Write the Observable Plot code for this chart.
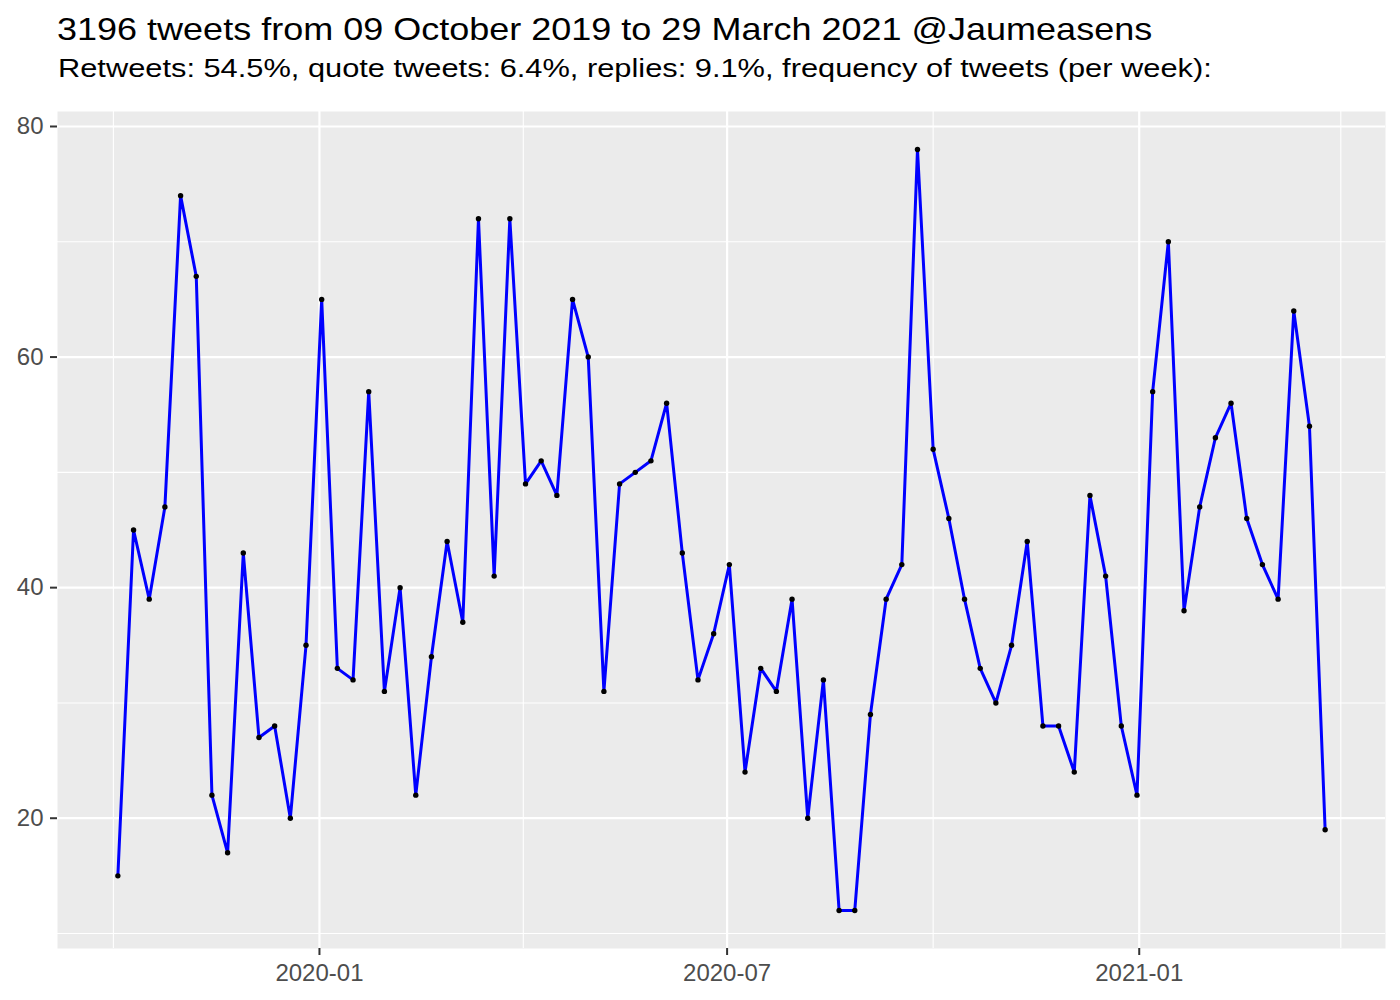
<!DOCTYPE html>
<html>
<head>
<meta charset="utf-8">
<script src="https://cdn.jsdelivr.net/npm/d3@7"></script>
<script src="https://cdn.jsdelivr.net/npm/@observablehq/plot@0.6"></script>
<style>
  html, body { margin: 0; padding: 0; background: #fff; }
  body { width: 1400px; height: 1000px; font-family: "Liberation Sans", Arial, Helvetica, sans-serif; }
  #head { position: relative; height: 100px; width: 1400px; }
  #title { position: absolute; left: 57px; top: 14px; font-size: 36px; color: #000; white-space: nowrap; line-height: 1; transform: scaleY(0.85); transform-origin: 0 0; }
  #subtitle { position: absolute; left: 58px; top: 56px; font-size: 30.8px; color: #000; white-space: nowrap; line-height: 1; transform: scaleY(0.85); transform-origin: 0 0; }
  #chart svg { display: block; }
</style>
</head>
<body>
<div id="head">
  <div id="title">3196 tweets from 09 October 2019 to 29 March 2021 @Jaumeasens</div>
  <div id="subtitle">Retweets: 54.5%, quote tweets: 6.4%, replies: 9.1%, frequency of tweets (per week):</div>
</div>
<div id="chart"></div>
<script>
// ---- data ----
const weeks = [
  "2019-10-03","2019-10-10","2019-10-17","2019-10-24","2019-10-31","2019-11-07","2019-11-14","2019-11-21","2019-11-28",
  "2019-12-05","2019-12-12","2019-12-19","2019-12-26",
  "2020-01-02","2020-01-09","2020-01-16","2020-01-23","2020-01-30","2020-02-06","2020-02-13","2020-02-20","2020-02-27",
  "2020-03-05","2020-03-12","2020-03-19","2020-03-26","2020-04-02","2020-04-09","2020-04-16","2020-04-23","2020-04-30",
  "2020-05-07","2020-05-14","2020-05-21","2020-05-28","2020-06-04","2020-06-11","2020-06-18","2020-06-25",
  "2020-07-02","2020-07-09","2020-07-16","2020-07-23","2020-07-30","2020-08-06","2020-08-13","2020-08-20","2020-08-27",
  "2020-09-03","2020-09-10","2020-09-17","2020-09-24","2020-10-01","2020-10-08","2020-10-15","2020-10-22","2020-10-29",
  "2020-11-05","2020-11-12","2020-11-19","2020-11-26","2020-12-03","2020-12-10","2020-12-17","2020-12-24","2020-12-31",
  "2021-01-07","2021-01-14","2021-01-21","2021-01-28","2021-02-04","2021-02-11","2021-02-18","2021-02-25",
  "2021-03-04","2021-03-11","2021-03-18","2021-03-25"
];
const tweetsPerWeek = [
  15,45,39,47,74,67,22,17,43,27,28,20,35,
  65,33,32,57,31,40,22,34,44,37,72,41,72,49,51,48,65,60,
  31,49,50,51,56,43,32,36,
  42,24,33,31,39,20,32,12,12,29,39,42,78,52,46,39,33,30,
  35,44,28,28,24,48,41,28,22,
  57,70,38,47,53,56,46,42,39,64,54,19
];
const xMajorTicks = ["2020-01-01","2020-07-01","2021-01-01"];
const xMinorTicks = ["2019-10-01","2020-04-01","2020-10-01","2021-04-01"];
const xTickLabels = ["2020-01","2020-07","2021-01"];
const yMajorTicks = [20,40,60,80];
const yMinorTicks = [10,30,50,70];

// ---- build ----
const parse = d3.utcParse("%Y-%m-%d");
const data = weeks.map((w, i) => ({date: parse(w), n: tweetsPerWeek[i]}));
const majX = xMajorTicks.map(parse);
const minX = xMinorTicks.map(parse);

// ggplot-like 5% expansion
const [d0, d1] = d3.extent(data, d => d.date);
const dx = (d1 - d0) * 0.05;
const [y0, y1] = d3.extent(data, d => d.n);
const dy = (y1 - y0) * 0.05;

const labelMap = new Map(majX.map((d, i) => [+d, xTickLabels[i]]));

const chart = Plot.plot({
  width: 1400,
  height: 900,
  marginLeft: 57,
  marginRight: 15,
  marginTop: 11,
  marginBottom: 52,
  style: {fontFamily: "'Liberation Sans', Arial, Helvetica, sans-serif", background: "#fff", overflow: "visible"},
  x: {type: "utc", domain: [new Date(+d0 - dx), new Date(+d1 + dx)]},
  y: {domain: [y0 - dy, y1 + dy]},
  marks: [
    Plot.frame({fill: "#EBEBEB", stroke: null}),
    Plot.ruleY(yMinorTicks, {stroke: "#fff", strokeWidth: 1.1}),
    Plot.ruleX(minX, {stroke: "#fff", strokeWidth: 1.1}),
    Plot.ruleY(yMajorTicks, {stroke: "#fff", strokeWidth: 2.2}),
    Plot.ruleX(majX, {stroke: "#fff", strokeWidth: 2.2}),
    Plot.line(data, {x: "date", y: "n", stroke: "#0000FF", strokeWidth: 3, strokeLinejoin: "round"}),
    Plot.dot(data, {x: "date", y: "n", r: 2.7, fill: "#000", stroke: null}),
    Plot.axisY({ticks: yMajorTicks, tickSize: 7, tickPadding: 7, fontSize: 24, color: "#4D4D4D", stroke: "#333", strokeWidth: 2, label: null}),
    Plot.axisX({ticks: majX, tickSize: 7, tickPadding: 8, fontSize: 24, color: "#4D4D4D", stroke: "#333", strokeWidth: 2, label: null, tickFormat: d => labelMap.get(+d)})
  ]
});
document.getElementById("chart").appendChild(chart);
</script>
</body>
</html>
